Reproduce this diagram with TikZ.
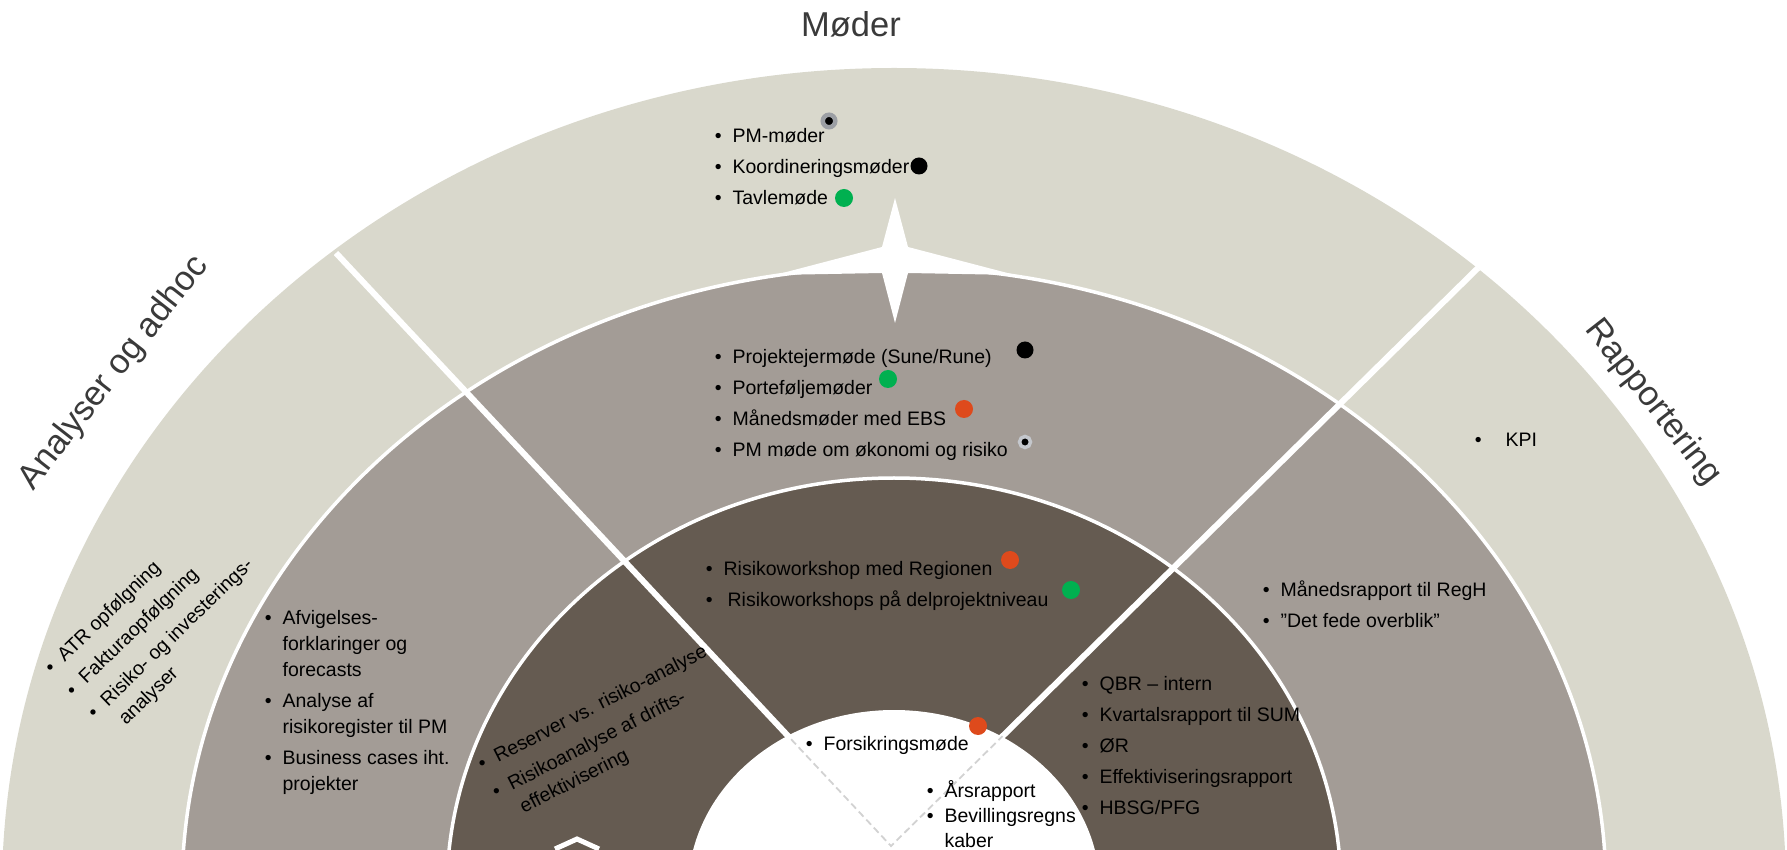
\documentclass[tikz,border=0pt]{standalone}
\usepackage{fontspec}
\setmainfont{Liberation Sans}
\usepackage{tikz}
\usetikzlibrary{calc}

\definecolor{ringlight}{HTML}{D9D8CC}
\definecolor{ringmid}{HTML}{A39C96}
\definecolor{ringdark}{HTML}{655B51}
\definecolor{dotgreen}{HTML}{00B050}
\definecolor{dotorange}{HTML}{DE4A1C}
\definecolor{dotgray}{HTML}{9C9FA4}
\definecolor{dotpale}{HTML}{C4C7CC}
\definecolor{dashgray}{HTML}{D2D2D2}
\definecolor{titlegray}{HTML}{3A3A3A}

\newcommand{\bl}{\textbullet}
\newenvironment{blist}{\begin{tabular}[t]{@{}l@{\hspace{11pt}}l@{}}}{\end{tabular}}

\begin{document}
\begin{tikzpicture}[x=1pt,y=1pt,
    lst/.style={inner sep=0pt,anchor=base west,font=\fontsize{19.5}{31}\selectfont},
    lsttight/.style={lst,font=\fontsize{19.5}{26}\selectfont},
    head/.style={inner sep=0pt,text=titlegray,font=\fontsize{34.5}{40}\selectfont},
    bdot/.style={circle,fill=black,inner sep=0pt,minimum size=17pt},
    gdot/.style={bdot,fill=dotgreen,minimum size=18pt},
    odot/.style={bdot,fill=dotorange,minimum size=18pt},
    pdot/.style={circle,fill=black,draw=dotgray,line width=4.5pt,inner sep=0pt,minimum size=12.5pt},
    sep/.style={draw=white,line width=3.5pt},
    divider/.style={white,line width=6pt}]

    \useasboundingbox (0,0) rectangle (1787,849);
    \clip (0,0) rectangle (1787,849);

    % The rings
    \fill[ringlight] (894,-41) ellipse [x radius=892pt, y radius=822pt];
    \filldraw[sep,fill=ringmid] (894,-41) ellipse [x radius=712pt, y radius=623pt];
    \filldraw[sep,fill=ringdark] (894,-41) ellipse [x radius=447pt, y radius=412pt];
    \fill[white] (894,-41) ellipse [x radius=206pt, y radius=180pt];

    % The dividers
    \coordinate (v) at (891,3);
    \coordinate (lt) at (336,596);
    \coordinate (rt) at (1478,581);
    \coordinate (el) at ($(v)!0.18!(lt)$);
    \coordinate (er) at ($(v)!0.19!(rt)$);
    \draw[divider] (v) -- (lt);
    \draw[divider] (v) -- (rt);
    \draw[dashgray,line width=1.8pt,dash pattern=on 7pt off 4pt] (el) -- (v) -- (er);

    % The star and the bottom tip
    \fill[white] (895,589) +(0,62) -- +(13,13) -- +(120,-15) -- +(13,-13) -- +(0,-63)
        -- +(-13,-13) -- +(-120,-15) -- +(-13,13) -- cycle;
    \draw[white,line width=5pt] (555,0) -- (577,10) -- (599,0);

    % Headings
    \node[head] (moder) at (851,825) {Møder};
    \node[head,rotate=52] (analyse) at (114,476) {Analyser og adhoc};
    \node[head,rotate=-52] (rapport) at (1653,446) {Rapportering};

    % Moeder
    \node[lst] (m1) at (714.6,706) {\begin{blist}\bl & PM-møder\\ \bl & Koordineringsmøder\\ \bl & Tavlemøde\end{blist}};
    \node[lst] (m2) at (714.6,485) {\begin{blist}\bl & Projektejermøde (Sune/Rune)\\ \bl & Porteføljemøder\\ \bl & Månedsmøder med EBS\\ \bl & PM møde om økonomi og risiko\end{blist}};
    \node[lst] (m3) at (705.6,273) {\begin{blist}\bl & Risikoworkshop med Regionen\\ \bl & \hspace{4pt}Risikoworkshops på delprojektniveau\end{blist}};
    \node[lst] (m4) at (805.6,99) {\bl\hspace{11pt}Forsikringsmøde};

    % Analyser og adhoc
    \node[lst,rotate=44] (a1) at (52,174) {\begin{blist}\bl & ATR opfølgning\\ \bl & Fakturaopfølgning\\ \bl & Risiko- og investerings-\\[-5pt] & analyser\end{blist}};
    \node[lsttight] (a2) at (264.6,225) {\begin{blist}\bl & Afvigelses-\\ & forklaringer og\\ & forecasts\\[5pt] \bl & Analyse af\\ & risikoregister til PM\\[5pt] \bl & Business cases iht.\\ & projekter\end{blist}};
    \node[lst,rotate=27] (a3) at (482,78) {\begin{blist}\bl & Reserver vs. risiko-analyse\\ \bl & Risikoanalyse af drifts-\\[-5pt] & effektivisering\end{blist}};

    % Rapportering
    \node[lst] (r1) at (1474.6,402) {\bl\hspace{24pt}KPI};
    \node[lst] (r2) at (1262.6,252) {\begin{blist}\bl & Månedsrapport til RegH\\ \bl & ”Det fede overblik”\end{blist}};
    \node[lst] (r3) at (1081.6,159) {\begin{blist}\bl & QBR – intern\\ \bl & Kvartalsrapport til SUM\\ \bl & ØR\\ \bl & Effektiviseringsrapport\\ \bl & HBSG/PFG\end{blist}};
    \node[lst,font=\fontsize{19.5}{25}\selectfont] (r4) at (926.6,52) {\begin{blist}\bl & Årsrapport\\ \bl & Bevillingsregns\\ & kaber\end{blist}};

    % The dots
    \node[pdot] (d1) at (829,728) {};
    \node[bdot] (d2) at (919,683) {};
    \node[gdot] (d3) at (844,651) {};
    \node[bdot] (d4) at (1025,499) {};
    \node[gdot] (d5) at (888,470) {};
    \node[odot] (d6) at (964,440) {};
    \node[pdot,draw=dotpale,line width=3.5pt,minimum size=11pt] (d7) at (1025,407) {};
    \node[odot] (d8) at (1010,289) {};
    \node[gdot] (d9) at (1071,259) {};
    \node[odot] (d10) at (978,123) {};
\end{tikzpicture}
\end{document}
